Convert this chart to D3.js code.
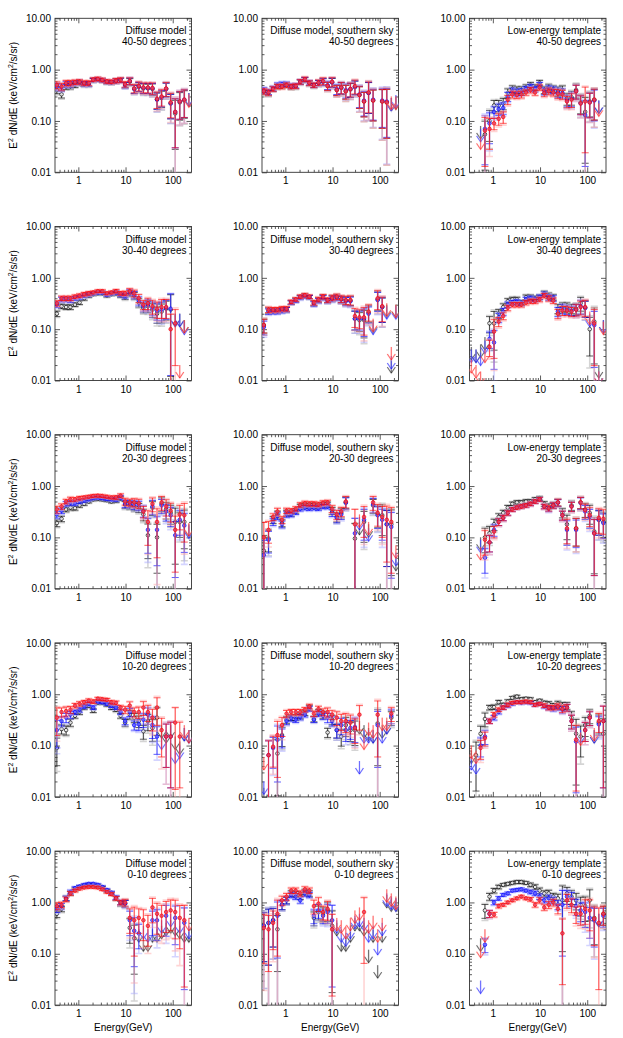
<!DOCTYPE html>
<html>
<head>
<meta charset="utf-8">
<script src="https://cdn.jsdelivr.net/npm/d3@7"></script>
<style>
  body { margin: 0; background: #fff; }
  svg text { font-family: "Liberation Sans", Arial, sans-serif; fill: #000; }
</style>
</head>
<body>
<script>
'use strict';

// energy bin centres (GeV), shared by every panel
const energies = [0.35, 0.44, 0.55, 0.68, 0.85, 1.06, 1.33, 1.66, 2.07, 2.59, 3.23, 4.03, 5.04, 6.29, 7.86,
  9.8, 12.3, 15.3, 19.1, 23.9, 29.8, 37.2, 46.5, 58.1, 72.5, 90.5, 113, 141, 176, 220];

const columnTitles = ["Diffuse model", "Diffuse model, southern sky", "Low-energy template"];
const bandLabels = ["40-50 degrees", "30-40 degrees", "20-30 degrees", "10-20 degrees", "0-10 degrees"];
const xTickValues = [1, 10, 100];
const xTickLabels = ["1", "10", "100"];
const yTickValues = [0.01, 0.1, 1, 10];
const yTickLabels = ["0.01", "0.10", "1.00", "10.00"];

// values: E^2 dN/dE in keV/cm2/s/sr; negative = upper limit at |v|; null = no point
// err arrays: relative 1-sigma error per bin (shared by the three series of a panel)

// ---- 40-50 degrees
const diff4050Black = [0.40, 0.33, 0.47, 0.48, 0.50, 0.55, 0.52, 0.52, 0.62, 0.64, 0.62, 0.57, 0.56, 0.60, 0.62, 0.50, 0.58, 0.42, 0.46, 0.43, 0.43, 0.42, 0.26, 0.28, 0.42, 0.22, 0.14, 0.23, 0.25, -0.35];
const diff4050Blue = [0.47, 0.45, 0.52, 0.52, 0.55, 0.57, 0.53, 0.53, 0.63, 0.65, 0.62, 0.58, 0.57, 0.60, 0.62, 0.50, 0.60, 0.42, 0.47, 0.44, 0.44, 0.43, 0.26, 0.29, 0.42, 0.22, 0.15, 0.24, 0.26, -0.35];
const diff4050Red = [0.50, 0.47, 0.55, 0.55, 0.57, 0.58, 0.55, 0.55, 0.64, 0.66, 0.63, 0.59, 0.58, 0.61, 0.63, 0.52, 0.60, 0.43, 0.48, 0.45, 0.45, 0.44, 0.27, 0.30, 0.43, 0.23, 0.15, 0.24, 0.26, -0.33];
const diff4050Err = [0.15, 0.15, 0.12, 0.12, 0.1, 0.1, 0.1, 0.1, 0.08, 0.08, 0.08, 0.08, 0.08, 0.1, 0.1, 0.12, 0.15, 0.18, 0.2, 0.22, 0.22, 0.25, 0.35, 0.35, 0.3, 0.5, 0.8, 0.55, 0.55, 0];

const south4050Black = [0.37, 0.35, 0.42, 0.47, 0.48, 0.50, 0.46, 0.47, 0.57, 0.63, 0.54, 0.49, 0.55, 0.58, 0.48, 0.56, 0.40, 0.44, 0.38, 0.41, 0.46, 0.32, 0.24, 0.35, 0.25, null, 0.24, 0.23, -0.28, -0.30];
const south4050Blue = [0.40, 0.37, 0.43, 0.50, 0.52, 0.52, 0.48, 0.49, 0.58, 0.64, 0.56, 0.50, 0.55, 0.58, 0.50, 0.57, 0.42, 0.45, 0.40, 0.42, 0.46, 0.33, 0.25, 0.35, 0.26, null, 0.25, 0.24, -0.28, -0.32];
const south4050Red = [0.38, 0.36, 0.42, 0.47, 0.47, 0.50, 0.47, 0.48, 0.58, 0.65, 0.55, 0.50, 0.56, 0.60, 0.48, 0.58, 0.40, 0.45, 0.38, 0.42, 0.48, 0.32, 0.24, 0.36, 0.25, null, 0.24, 0.23, -0.30, -0.30];
const south4050Err = [0.12, 0.12, 0.1, 0.1, 0.1, 0.1, 0.1, 0.1, 0.1, 0.1, 0.1, 0.1, 0.12, 0.15, 0.18, 0.2, 0.22, 0.25, 0.3, 0.3, 0.3, 0.45, 0.5, 0.6, 0.6, 0, 0.7, 0.8, 0, 0];

const tmpl4050Black = [null, null, -0.08, 0.055, 0.10, 0.20, 0.20, 0.22, 0.35, 0.42, 0.40, 0.40, 0.45, 0.50, 0.45, 0.55, 0.40, 0.45, 0.42, 0.38, 0.40, 0.27, 0.29, 0.40, 0.23, 0.15, 0.24, 0.26, -0.25, null];
const tmpl4050Blue = [null, null, -0.07, 0.07, 0.09, 0.15, 0.17, 0.18, 0.30, 0.38, 0.36, 0.37, 0.42, 0.46, 0.42, 0.50, 0.38, 0.42, 0.40, 0.36, 0.35, 0.25, 0.27, 0.38, 0.22, 0.13, 0.23, 0.25, -0.25, null];
const tmpl4050Red = [null, null, -0.05, 0.065, 0.07, 0.09, 0.11, 0.12, 0.26, 0.33, 0.32, 0.33, 0.36, 0.40, 0.36, 0.45, 0.35, 0.38, 0.36, 0.34, 0.33, 0.24, 0.26, 0.38, 0.22, 0.24, 0.23, 0.26, -0.22, null];
const tmpl4050Err = [0, 0, 0, 0.8, 0.6, 0.25, 0.25, 0.25, 0.2, 0.15, 0.15, 0.15, 0.12, 0.12, 0.12, 0.12, 0.15, 0.15, 0.15, 0.2, 0.2, 0.25, 0.3, 0.3, 0.4, 0.9, 0.5, 0.6, 0, 0];

// ---- 30-40 degrees
const diff3040Black = [0.20, 0.28, 0.27, 0.27, 0.30, 0.33, 0.40, 0.45, 0.48, 0.50, 0.50, 0.45, 0.48, 0.50, 0.45, 0.42, 0.50, 0.45, 0.33, 0.26, 0.28, 0.24, 0.20, 0.22, 0.25, 0.24, -0.20, -0.20, -0.15, null];
const diff3040Blue = [0.30, 0.38, 0.38, 0.37, 0.40, 0.42, 0.45, 0.48, 0.50, 0.52, 0.52, 0.47, 0.50, 0.52, 0.47, 0.45, 0.52, 0.47, 0.36, 0.28, 0.30, 0.26, 0.23, 0.24, 0.26, 0.25, -0.20, -0.20, -0.14, null];
const diff3040Red = [0.32, 0.40, 0.40, 0.40, 0.43, 0.45, 0.48, 0.50, 0.52, 0.55, 0.55, 0.50, 0.52, 0.55, 0.50, 0.50, 0.55, 0.50, 0.40, 0.30, 0.32, 0.28, 0.25, 0.27, 0.27, 0.10, 0.13, -0.02, -0.15, null];
const diff3040Err = [0.12, 0.1, 0.1, 0.1, 0.08, 0.08, 0.08, 0.08, 0.06, 0.06, 0.06, 0.06, 0.06, 0.08, 0.08, 0.1, 0.12, 0.15, 0.18, 0.2, 0.25, 0.3, 0.35, 0.4, 0.4, 0.95, 0.85, 0, 0, 0];

const south3040Black = [0.12, 0.23, 0.23, 0.23, 0.24, 0.24, 0.33, 0.37, 0.42, 0.45, 0.42, 0.32, 0.37, 0.42, 0.36, 0.40, 0.42, 0.38, 0.36, 0.36, 0.16, 0.15, 0.15, 0.21, -0.15, 0.38, 0.27, -0.30, -0.025, -0.30];
const south3040Blue = [0.11, 0.22, 0.22, 0.22, 0.23, 0.24, 0.33, 0.36, 0.41, 0.44, 0.42, 0.31, 0.36, 0.41, 0.36, 0.39, 0.41, 0.38, 0.35, 0.35, 0.16, 0.16, 0.16, 0.20, -0.14, 0.37, 0.27, -0.28, -0.03, -0.28];
const south3040Red = [0.12, 0.24, 0.24, 0.24, 0.25, 0.25, 0.34, 0.38, 0.43, 0.46, 0.43, 0.33, 0.38, 0.43, 0.37, 0.41, 0.43, 0.39, 0.37, 0.37, 0.18, 0.17, 0.17, 0.22, -0.16, 0.40, 0.28, -0.32, -0.045, -0.30];
const south3040Err = [0.3, 0.12, 0.1, 0.1, 0.1, 0.1, 0.08, 0.08, 0.08, 0.08, 0.08, 0.1, 0.1, 0.1, 0.1, 0.12, 0.12, 0.15, 0.18, 0.2, 0.4, 0.4, 0.55, 0.35, 0, 0.4, 0.5, 0, 0, 0];

const tmpl3040Black = [-0.045, -0.04, -0.05, -0.07, 0.13, 0.13, 0.20, 0.27, 0.35, 0.38, 0.38, 0.33, 0.42, 0.42, 0.40, 0.42, 0.50, 0.45, 0.42, 0.25, 0.27, 0.27, 0.25, 0.25, 0.32, 0.26, 0.10, 0.14, -0.02, -0.15];
const tmpl3040Blue = [-0.04, -0.04, -0.035, -0.06, 0.065, 0.055, 0.17, 0.22, 0.30, 0.33, 0.34, 0.32, 0.38, 0.40, 0.38, 0.42, 0.48, 0.42, 0.40, 0.22, 0.25, 0.24, 0.23, 0.24, 0.28, 0.26, -0.20, 0.12, -0.015, -0.15];
const tmpl3040Red = [-0.025, -0.02, -0.015, -0.04, 0.045, 0.09, 0.14, 0.18, 0.26, 0.30, 0.30, 0.30, 0.33, 0.35, 0.35, 0.38, 0.45, 0.40, 0.36, 0.20, 0.23, 0.23, 0.22, 0.24, 0.27, 0.27, -0.22, 0.13, -0.015, -0.14];
const tmpl3040Err = [0, 0, 0, 0, 0.35, 0.7, 0.2, 0.15, 0.12, 0.1, 0.1, 0.1, 0.1, 0.1, 0.1, 0.1, 0.1, 0.12, 0.12, 0.2, 0.2, 0.2, 0.2, 0.25, 0.3, 0.35, 0.7, 0.85, 0, 0];

// ---- 20-30 degrees
const diff2030Black = [0.19, 0.23, 0.35, 0.38, 0.37, 0.42, 0.45, 0.50, 0.55, 0.56, 0.55, 0.53, 0.50, 0.52, 0.57, 0.43, 0.42, 0.40, 0.38, 0.28, 0.11, 0.38, 0.10, 0.45, 0.35, 0.30, 0.20, 0.20, 0.20, -0.18];
const diff2030Blue = [0.28, 0.33, 0.45, 0.47, 0.46, 0.50, 0.52, 0.55, 0.58, 0.60, 0.58, 0.56, 0.55, 0.55, 0.60, 0.45, 0.45, 0.43, 0.42, 0.33, 0.14, 0.40, 0.14, 0.42, 0.32, 0.27, 0.11, 0.22, 0.17, -0.17];
const diff2030Red = [0.35, 0.40, 0.50, 0.55, 0.55, 0.58, 0.60, 0.62, 0.64, 0.65, 0.64, 0.62, 0.60, 0.60, 0.65, 0.50, 0.48, 0.48, 0.46, 0.32, 0.20, 0.45, 0.20, 0.48, 0.40, 0.33, 0.14, 0.28, 0.27, -0.19];
const diff2030Err = [0.15, 0.12, 0.1, 0.1, 0.08, 0.08, 0.06, 0.06, 0.06, 0.06, 0.06, 0.06, 0.06, 0.08, 0.08, 0.15, 0.15, 0.18, 0.2, 0.25, 0.65, 0.3, 0.8, 0.3, 0.35, 0.4, 0.85, 0.5, 0.7, 0];

const south2030Black = [0.055, 0.095, 0.22, 0.28, 0.19, 0.30, 0.29, 0.33, 0.40, 0.42, 0.41, 0.42, 0.40, 0.43, 0.44, 0.33, 0.25, 0.30, 0.48, null, 0.095, -0.20, 0.20, -0.18, 0.42, 0.28, 0.27, 0.18, 0.18, -0.04];
const south2030Blue = [0.045, 0.09, 0.20, 0.26, 0.18, 0.28, 0.28, 0.31, 0.36, 0.38, 0.37, 0.38, 0.37, 0.40, 0.40, 0.30, 0.24, 0.28, 0.47, null, 0.12, -0.25, 0.22, -0.15, 0.44, 0.27, 0.22, 0.18, 0.16, -0.05];
const south2030Red = [0.10, 0.14, 0.25, 0.32, 0.22, 0.33, 0.33, 0.36, 0.43, 0.46, 0.45, 0.45, 0.44, 0.47, 0.48, 0.36, 0.28, 0.32, 0.50, null, 0.18, -0.28, 0.25, -0.20, 0.48, 0.30, 0.25, 0.22, 0.20, -0.07];
const south2030Err = [0.95, 0.45, 0.15, 0.15, 0.15, 0.12, 0.1, 0.1, 0.1, 0.1, 0.1, 0.1, 0.1, 0.1, 0.1, 0.15, 0.2, 0.2, 0.25, 0, 0.95, 0, 0.6, 0, 0.3, 0.45, 0.6, 0.85, 0.9, 0];

const tmpl2030Black = [null, null, -0.10, 0.10, 0.12, 0.18, 0.25, 0.30, 0.38, 0.45, 0.48, 0.48, 0.50, 0.50, 0.55, 0.58, 0.45, 0.40, 0.43, 0.48, 0.30, 0.18, 0.42, 0.15, 0.48, 0.35, 0.30, 0.13, 0.22, 0.20];
const tmpl2030Blue = [null, null, -0.09, 0.04, 0.08, 0.14, 0.20, 0.24, 0.30, 0.35, 0.38, 0.40, 0.42, 0.45, 0.50, 0.55, 0.40, 0.36, 0.42, 0.47, 0.27, 0.14, 0.40, 0.14, 0.47, 0.32, 0.25, 0.12, 0.22, 0.19];
const tmpl2030Red = [null, null, -0.065, 0.09, 0.08, 0.13, 0.20, 0.24, 0.30, 0.35, 0.38, 0.40, 0.42, 0.45, 0.50, 0.55, 0.40, 0.37, 0.42, 0.48, 0.27, 0.15, 0.40, 0.15, 0.48, 0.34, 0.27, 0.12, 0.24, 0.23];
const tmpl2030Err = [0, 0, 0, 0.5, 0.35, 0.25, 0.15, 0.12, 0.1, 0.08, 0.08, 0.08, 0.08, 0.08, 0.08, 0.08, 0.1, 0.12, 0.12, 0.15, 0.2, 0.5, 0.2, 0.55, 0.25, 0.3, 0.4, 0.85, 0.5, 0.5];

// ---- 10-20 degrees
const diff1020Black = [0.09, 0.21, 0.20, 0.28, 0.38, 0.45, 0.55, 0.60, 0.48, 0.68, 0.68, 0.62, 0.55, 0.50, 0.38, 0.28, 0.40, 0.35, 0.30, 0.19, 0.30, 0.22, 0.35, -0.25, -0.20, -0.25, -0.15, -0.12, -0.22, -0.20];
const diff1020Blue = [0.20, 0.30, 0.35, 0.40, 0.45, 0.50, 0.58, 0.65, 0.55, 0.72, 0.70, 0.65, 0.60, 0.55, 0.45, 0.30, 0.45, 0.25, 0.26, 0.32, 0.40, 0.25, 0.15, -0.15, 0.15, 0.15, -0.08, -0.10, -0.22, -0.20];
const diff1020Red = [0.35, 0.45, 0.47, 0.50, 0.60, 0.65, 0.70, 0.75, 0.72, 0.82, 0.80, 0.78, 0.70, 0.68, 0.55, 0.50, 0.60, 0.45, 0.45, 0.55, 0.45, 0.35, 0.55, 0.20, 0.15, 0.15, 0.28, 0.15, -0.25, -0.20];
const diff1020Err = [0.55, 0.2, 0.2, 0.15, 0.1, 0.1, 0.08, 0.08, 0.08, 0.06, 0.06, 0.06, 0.08, 0.08, 0.1, 0.15, 0.18, 0.2, 0.25, 0.3, 0.35, 0.45, 0.55, 0.7, 0.75, 0.9, 0.95, 0.9, 0, 0];

const south1020Black = [-0.015, null, null, 0.07, 0.16, 0.32, 0.35, 0.35, 0.38, 0.43, 0.55, 0.33, 0.45, 0.40, 0.18, 0.32, 0.20, 0.15, 0.25, 0.20, 0.20, -0.30, -0.25, -0.22, -0.20, 0.27, -0.25, -0.30, 0.35, null];
const south1020Blue = [-0.02, 0.065, 0.09, 0.13, 0.15, 0.30, 0.34, 0.32, 0.36, 0.40, 0.52, 0.32, 0.42, 0.38, 0.35, 0.30, 0.20, 0.25, 0.20, 0.22, 0.23, -0.05, -0.20, -0.20, -0.20, 0.25, -0.20, -0.30, 0.38, null];
const south1020Red = [-0.06, 0.065, 0.095, 0.16, 0.25, 0.42, 0.45, 0.45, 0.45, 0.50, 0.58, 0.42, 0.52, 0.45, 0.45, 0.40, 0.35, 0.30, 0.30, 0.28, 0.22, 0.40, -0.15, -0.28, -0.25, 0.40, -0.35, -0.35, 0.42, null];
const south1020Err = [0, 0.9, 0.6, 0.85, 0.4, 0.15, 0.12, 0.12, 0.12, 0.1, 0.1, 0.12, 0.12, 0.15, 0.2, 0.2, 0.3, 0.35, 0.4, 0.4, 0.5, 0.5, 0, 0, 0, 0.85, 0, 0, 0.3, 0];

const tmpl1020Black = [-0.08, 0.065, 0.17, 0.33, 0.55, 0.56, 0.70, 0.62, 0.72, 0.85, 0.90, 0.80, 0.82, 0.80, 0.70, 0.75, 0.68, 0.65, 0.60, 0.65, 0.60, 0.60, 0.35, 0.17, 0.15, 0.25, 0.38, -0.20, 0.28, 0.17];
const tmpl1020Blue = [-0.06, -0.05, 0.10, 0.15, 0.30, 0.35, 0.45, 0.55, 0.60, 0.65, 0.70, 0.68, 0.70, 0.68, 0.62, 0.65, 0.58, 0.55, 0.52, 0.55, 0.50, 0.55, 0.30, 0.12, -0.20, 0.20, 0.35, -0.20, 0.26, 0.30];
const tmpl1020Red = [-0.10, -0.08, 0.09, 0.14, 0.30, 0.40, 0.50, 0.55, 0.62, 0.68, 0.70, 0.70, 0.72, 0.70, 0.62, 0.65, 0.60, 0.55, 0.55, 0.58, 0.52, 0.55, 0.30, 0.13, -0.18, 0.20, 0.35, -0.22, 0.30, 0.30];
const tmpl1020Err = [0, 0.8, 0.4, 0.3, 0.1, 0.1, 0.08, 0.08, 0.08, 0.06, 0.06, 0.06, 0.06, 0.06, 0.06, 0.06, 0.08, 0.1, 0.1, 0.12, 0.15, 0.15, 0.3, 0.9, 0.6, 0.4, 0.3, 0, 0.4, 0.95];

// ---- 0-10 degrees
const diff0010Black = [0.60, 0.75, 1.20, 1.50, 1.80, 2.00, 2.10, 2.20, 2.20, 2.10, 1.95, 1.70, 1.50, 1.20, 0.95, 0.95, 0.32, 0.20, -0.30, -0.20, -0.20, -0.30, -0.30, -0.35, -0.40, -0.45, -0.40, -0.35, -0.30, -0.30];
const diff0010Blue = [0.75, 0.85, 1.20, 1.60, 1.90, 2.05, 2.20, 2.30, 2.30, 2.20, 2.00, 1.75, 1.55, 1.25, 1.00, 0.95, 0.45, 0.28, 0.25, -0.35, -0.30, 0.45, 0.45, -0.45, 0.55, -0.60, 0.50, -0.45, 0.40, -0.35];
const diff0010Red = [0.85, 0.90, 1.15, 1.50, 1.70, 1.85, 1.95, 2.00, 2.00, 1.95, 1.80, 1.60, 1.45, 1.20, 1.00, 1.00, 0.50, 0.45, 0.50, 0.45, 0.35, 0.80, 0.60, 0.55, 0.65, 0.70, 0.65, 0.50, 0.45, -0.50];
const diff0010Err = [0.15, 0.12, 0.1, 0.08, 0.06, 0.05, 0.05, 0.05, 0.05, 0.05, 0.05, 0.05, 0.06, 0.08, 0.1, 0.15, 0.5, 0.8, 0.5, 0.6, 0.6, 0.5, 0.6, 0.6, 0.6, 0.6, 0.7, 0.75, 0.95, 0];

const south0010Black = [0.35, 0.40, 0.45, 0.30, 0.90, 1.10, 1.50, 1.45, 1.30, 1.60, 1.50, 0.50, 0.65, 0.60, 0.70, 0.35, -0.40, -0.20, -0.20, -0.30, -0.50, -0.50, -0.40, -0.12, -0.30, -0.06, -0.30, -1.40, -1.20, -1.20];
const south0010Blue = [0.35, 0.40, 0.45, 0.55, 0.90, 1.10, 1.40, 1.30, 1.10, 1.50, 1.40, 0.55, 0.70, 0.55, 0.65, 0.45, -0.45, -0.30, -0.25, -0.35, -0.55, -0.60, -0.50, -0.30, -0.35, -0.17, -0.40, -1.50, -1.30, -1.20];
const south0010Red = [0.32, 0.30, 0.40, 0.60, 1.10, 1.30, 1.70, 1.70, 1.50, 1.80, 1.70, 0.85, 0.95, 0.65, 0.75, 0.30, -0.50, -0.45, -0.35, -0.50, -0.70, -0.80, 0.65, -0.45, -0.55, -0.30, -0.50, -1.80, -1.50, -1.30];
const south0010Err = [0.8, 0.85, 0.7, 0.85, 0.2, 0.15, 0.12, 0.12, 0.12, 0.12, 0.12, 0.3, 0.3, 0.3, 0.4, 0.95, 0, 0, 0, 0, 0, 0, 0.9, 0, 0, 0, 0, 0, 0, 0];

const tmpl0010Black = [null, null, -0.20, 0.70, 1.30, 1.70, 2.00, 2.20, 2.30, 2.40, 2.50, 2.50, 2.40, 2.20, 2.00, 1.70, 1.50, 1.50, 1.30, 1.20, 1.10, 1.50, 1.30, 1.10, 0.90, 0.85, 1.10, 0.50, -0.60, 0.60];
const tmpl0010Blue = [null, null, -0.03, 0.15, 0.60, 1.00, 1.20, 1.40, 1.50, 1.70, 1.75, 1.80, 1.70, 1.60, 1.50, 1.30, 1.10, 1.20, 1.10, 0.90, 0.90, 1.30, 1.20, 0.85, 0.70, 0.65, 0.50, 0.45, -0.60, 0.55];
const tmpl0010Red = [null, null, -0.15, -0.30, 0.60, 0.58, 0.85, 0.90, 1.00, 1.10, 1.20, 1.30, 1.20, 1.15, 0.90, 1.10, 0.80, 0.90, 1.00, 0.75, 0.25, 1.10, 0.90, 0.60, 0.60, 0.75, 0.70, 0.48, 0.40, 0.60];
const tmpl0010Err = [0, 0, 0, 0.3, 0.15, 0.1, 0.08, 0.06, 0.06, 0.06, 0.06, 0.06, 0.06, 0.08, 0.1, 0.12, 0.12, 0.15, 0.15, 0.2, 0.9, 0.3, 0.3, 0.35, 0.4, 0.5, 0.6, 0.7, 0.95, 0.4];

// panel table built from the arrays above (row = latitude band, col = model)
const panels = [
  [[diff4050Black, diff4050Blue, diff4050Red, diff4050Err], [south4050Black, south4050Blue, south4050Red, south4050Err], [tmpl4050Black, tmpl4050Blue, tmpl4050Red, tmpl4050Err]],
  [[diff3040Black, diff3040Blue, diff3040Red, diff3040Err], [south3040Black, south3040Blue, south3040Red, south3040Err], [tmpl3040Black, tmpl3040Blue, tmpl3040Red, tmpl3040Err]],
  [[diff2030Black, diff2030Blue, diff2030Red, diff2030Err], [south2030Black, south2030Blue, south2030Red, south2030Err], [tmpl2030Black, tmpl2030Blue, tmpl2030Red, tmpl2030Err]],
  [[diff1020Black, diff1020Blue, diff1020Red, diff1020Err], [south1020Black, south1020Blue, south1020Red, south1020Err], [tmpl1020Black, tmpl1020Blue, tmpl1020Red, tmpl1020Err]],
  [[diff0010Black, diff0010Blue, diff0010Red, diff0010Err], [south0010Black, south0010Blue, south0010Red, south0010Err], [tmpl0010Black, tmpl0010Blue, tmpl0010Red, tmpl0010Err]]
];

const seriesColors = ["#000000", "#0000ff", "#ff0000"];
const seriesLight = ["#a0a0a0", "#a0a0ff", "#ffa0a0"];
const seriesFill = ["#ffffff", "#6060ff", "#e04060"];

(function() {
  const W = 623, H = 1038;
  const colLeft = [55, 262, 469.5];
  const rowTop = [18.3, 226.5, 434.7, 642.9, 851.1];
  const plotW = 136.5, plotH = 154;

  let svg = d3.select('body')
    .append('svg')
    .attr('width', W)
    .attr('height', H);

  for (let r = 0; r < 5; r++) {
    for (let c = 0; c < 3; c++) {
      drawPanel(r, c);
    }
  }

  function minorTicks(lo, hi) {
    let out = [];
    for (let d = lo; d < hi; d *= 10) {
      for (let m = 2; m <= 9; m++) out.push(d * m);
    }
    return out;
  }

  function drawPanel(r, c) {
    let left = colLeft[c], top = rowTop[r];
    let x = d3.scaleLog().domain([0.32, 250]).range([left, left + plotW]);
    let y = d3.scaleLog().domain([0.01, 10]).range([top + plotH, top]);
    let g = svg.append('g');

    let xMinor = minorTicks(0.1, 1000).filter((v) => v > 0.32 && v < 250);
    let yMinor = minorTicks(0.01, 10);

    // axes: ticks point inward on all four sides
    let axisStyle = (sel) => {
      sel.select('.domain').remove();
      sel.selectAll('line').attr('stroke', '#333').attr('stroke-width', 0.8);
      sel.selectAll('text').style('font-size', '10px').attr('font-family', null);
    };
    g.append('g').attr('transform', 'translate(0,' + (top + plotH) + ')')
      .call(d3.axisBottom(x).tickValues(xTickValues).tickFormat((d, i) => xTickLabels[i]).tickSizeInner(-5).tickSizeOuter(0).tickPadding(5))
      .call(axisStyle);
    g.append('g').attr('transform', 'translate(0,' + (top + plotH) + ')')
      .call(d3.axisBottom(x).tickValues(xMinor).tickFormat('').tickSizeInner(-2.5).tickSizeOuter(0))
      .call(axisStyle);
    g.append('g').attr('transform', 'translate(0,' + top + ')')
      .call(d3.axisTop(x).tickValues(xTickValues).tickFormat('').tickSizeInner(-5).tickSizeOuter(0))
      .call(axisStyle);
    g.append('g').attr('transform', 'translate(0,' + top + ')')
      .call(d3.axisTop(x).tickValues(xMinor).tickFormat('').tickSizeInner(-2.5).tickSizeOuter(0))
      .call(axisStyle);
    g.append('g').attr('transform', 'translate(' + left + ',0)')
      .call(d3.axisLeft(y).tickValues(yTickValues).tickFormat((d, i) => yTickLabels[i]).tickSizeInner(-5).tickSizeOuter(0).tickPadding(4))
      .call(axisStyle);
    g.append('g').attr('transform', 'translate(' + left + ',0)')
      .call(d3.axisLeft(y).tickValues(yMinor).tickFormat('').tickSizeInner(-2.5).tickSizeOuter(0))
      .call(axisStyle);
    g.append('g').attr('transform', 'translate(' + (left + plotW) + ',0)')
      .call(d3.axisRight(y).tickValues(yTickValues).tickFormat('').tickSizeInner(-5).tickSizeOuter(0))
      .call(axisStyle);
    g.append('g').attr('transform', 'translate(' + (left + plotW) + ',0)')
      .call(d3.axisRight(y).tickValues(yMinor).tickFormat('').tickSizeInner(-2.5).tickSizeOuter(0))
      .call(axisStyle);

    g.append('rect')
      .attr('x', left).attr('y', top)
      .attr('width', plotW).attr('height', plotH)
      .attr('fill', 'none')
      .attr('stroke', '#333')
      .attr('stroke-width', 0.9);

    // clip for data
    let clipId = 'clip' + r + c;
    svg.append('clipPath').attr('id', clipId)
      .append('rect')
      .attr('x', left).attr('y', top)
      .attr('width', plotW).attr('height', plotH);
    let dataG = g.append('g').attr('clip-path', 'url(#' + clipId + ')');

    let set = panels[r][c];
    let err = set[3];
    for (let s = 0; s < 3; s++) {
      plotSeries(dataG, set[s], err, s, x, y);
    }

    // labels in the corner
    g.append('text')
      .attr('x', left + plotW - 5)
      .attr('y', top + 16)
      .attr('text-anchor', 'end')
      .style('font-size', '10px')
      .text(columnTitles[c]);
    g.append('text')
      .attr('x', left + plotW - 5)
      .attr('y', top + 27)
      .attr('text-anchor', 'end')
      .style('font-size', '10px')
      .text(bandLabels[r]);

    if (c == 0) {
      let t = g.append('text')
        .attr('transform', 'translate(17,' + (top + plotH / 2) + ')rotate(-90)')
        .attr('text-anchor', 'middle')
        .style('font-size', '10px');
      t.append('tspan').text('E');
      t.append('tspan').attr('dy', -4).style('font-size', '7px').text('2');
      t.append('tspan').attr('dy', 4).text(' dN/dE (keV/cm');
      t.append('tspan').attr('dy', -4).style('font-size', '7px').text('2');
      t.append('tspan').attr('dy', 4).text('/s/sr)');
    }

    if (r == 4) {
      g.append('text')
        .attr('x', left + plotW / 2)
        .attr('y', top + plotH + 26)
        .attr('text-anchor', 'middle')
        .style('font-size', '10px')
        .text('Energy(GeV)');
    }
  }

  function plotSeries(g, vals, err, s, x, y) {
    let color = seriesColors[s], light = seriesLight[s];
    let floor = 0.004;
    vals.forEach((v, i) => {
      if (v === null) return;
      let cx = x(energies[i]);
      if (v < 0) {
        // upper limit arrow
        let top = y(-v), tip = top + 13;
        [[light, 1.6, 0.5], [color, 0.7, 0.7]].forEach(([col, w, op]) => {
          g.append('path')
            .attr('d', 'M' + cx + ',' + top + 'L' + cx + ',' + tip +
              'M' + (cx - 4) + ',' + (tip - 6) + 'L' + cx + ',' + tip + 'L' + (cx + 4) + ',' + (tip - 6))
            .attr('fill', 'none')
            .attr('stroke', col)
            .attr('stroke-opacity', op)
            .attr('stroke-width', w);
        });
        return;
      }
      let e = err[i];
      let eL = Math.min(e * 1.15 + 0.02, 1);
      let bars = [[eL, light, 1.6, 0.45], [e, color, 0.8, 0.8]];
      bars.forEach(([ee, col, w, op]) => {
        let lo = ee >= 1 ? floor : v * (1 - ee);
        let hi = v * (1 + ee);
        let y0 = y(lo), y1 = y(hi);
        g.append('path')
          .attr('d', 'M' + cx + ',' + y0 + 'L' + cx + ',' + y1 +
            'M' + (cx - 3.5) + ',' + y1 + 'L' + (cx + 3.5) + ',' + y1 +
            'M' + (cx - 3.5) + ',' + y0 + 'L' + (cx + 3.5) + ',' + y0)
          .attr('fill', 'none')
          .attr('stroke', col)
          .attr('stroke-opacity', op)
          .attr('stroke-width', w);
      });
      g.append('circle')
        .attr('cx', cx)
        .attr('cy', y(v))
        .attr('r', 1.8)
        .attr('fill', seriesFill[s])
        .attr('fill-opacity', 0.8)
        .attr('stroke', color)
        .attr('stroke-opacity', 0.85)
        .attr('stroke-width', 0.8);
    });
  }
})();
</script>
</body>
</html>
